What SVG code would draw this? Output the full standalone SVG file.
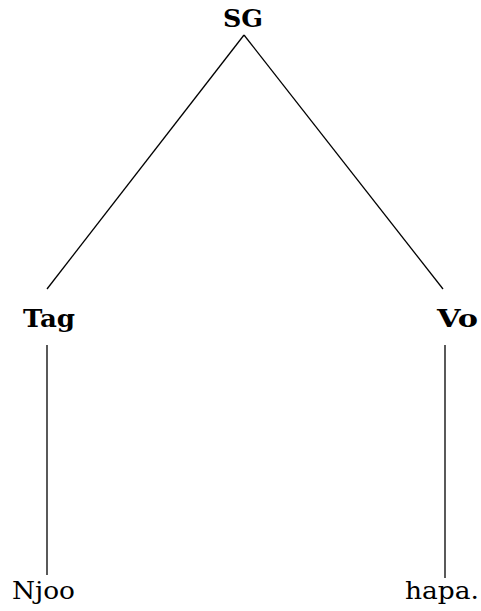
<svg xmlns="http://www.w3.org/2000/svg" width="481" height="611" viewBox="0 0 481 611">
<style>
.b{font-family:"DejaVu Serif","Liberation Serif",serif;font-weight:bold;font-size:24px;fill:#000}
.r{font-family:"DejaVu Serif","Liberation Serif",serif;font-size:24px;fill:#000}
.l{stroke:#000;stroke-width:1.3;fill:none}
</style>
<rect width="481" height="611" fill="#fff"/>
<g id="connectors">
<line class="l" x1="244" y1="35" x2="47" y2="289"/>
<line class="l" x1="244" y1="35" x2="443" y2="289"/>
<line class="l" x1="47" y1="345" x2="47" y2="575"/>
<line class="l" x1="445" y1="345" x2="445" y2="578"/>
</g>
<g id="SG"><text class="b" x="223" y="27" textLength="40" lengthAdjust="spacingAndGlyphs">SG</text></g>
<g id="Tag"><text class="b" x="23" y="327" textLength="52" lengthAdjust="spacingAndGlyphs">Tag</text></g>
<g id="Vo"><text class="b" x="437" y="327" textLength="41" lengthAdjust="spacingAndGlyphs">Vo</text></g>
<g id="Njoo"><text class="r" x="12" y="599" textLength="63" lengthAdjust="spacingAndGlyphs">Njoo</text></g>
<g id="hapa"><text class="r" x="405" y="599" textLength="74" lengthAdjust="spacingAndGlyphs">hapa.</text></g>
</svg>
